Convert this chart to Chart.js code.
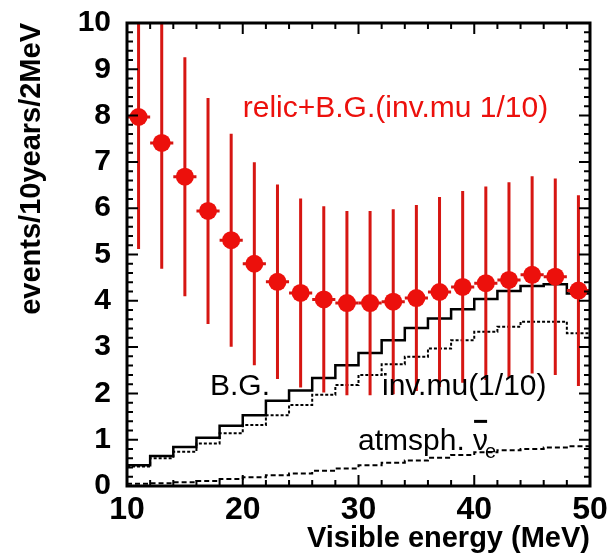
<!DOCTYPE html>
<html>
<head>
<meta charset="utf-8">
<script src="https://cdn.jsdelivr.net/npm/chart.js@4.4.1/dist/chart.umd.min.js"></script>
<style>
  html, body { margin: 0; padding: 0; background: #fff; }
</style>
</head>
<body>
<canvas id="graph" width="609" height="559"></canvas>
<script>
// 2 MeV bins from 10 to 50 MeV
const edges = [10, 12, 14, 16, 18, 20, 22, 24, 26, 28, 30, 32, 34, 36, 38, 40, 42, 44, 46, 48, 50];
const energy = [11, 13, 15, 17, 19, 21, 23, 25, 27, 29, 31, 33, 35, 37, 39, 41, 43, 45, 47, 49];

// relic + B.G. (inv.mu 1/10), with statistical errors
const relic = [7.97, 7.41, 6.68, 5.94, 5.31, 4.80, 4.41, 4.17, 4.03, 3.95, 3.95, 3.98, 4.06, 4.19, 4.30, 4.38, 4.45, 4.56, 4.52, 4.22];
const relicErr = [2.85, 2.72, 2.58, 2.44, 2.30, 2.19, 2.10, 2.04, 2.01, 1.99, 1.99, 2.00, 2.01, 2.05, 2.07, 2.09, 2.11, 2.13, 2.12, 2.06];

// backgrounds
const bg = [0.45, 0.65, 0.84, 1.04, 1.30, 1.53, 1.84, 2.06, 2.33, 2.61, 2.87, 3.15, 3.41, 3.62, 3.82, 4.04, 4.21, 4.32, 4.36, 4.16];
const invMu = [0.42, 0.60, 0.74, 0.92, 1.14, 1.32, 1.53, 1.75, 1.97, 2.18, 2.40, 2.63, 2.79, 2.97, 3.15, 3.33, 3.44, 3.55, 3.55, 3.30];
const atmNue = [0.05, 0.06, 0.08, 0.11, 0.15, 0.19, 0.23, 0.27, 0.33, 0.38, 0.45, 0.50, 0.55, 0.61, 0.67, 0.73, 0.77, 0.80, 0.83, 0.86];

const xTicks = [10, 20, 30, 40, 50];
const yTicks = [0, 1, 2, 3, 4, 5, 6, 7, 8, 9, 10];

const FONT = '"Liberation Sans", Arial, Helvetica, sans-serif';
const RED = 'rgb(236, 16, 12)';
const BAR_RED = 'rgb(214, 22, 18)';

// histogram -> points at bin edges, last value repeated at the upper edge
function steps(vals) {
  return edges.map((e, i) => ({ x: e, y: vals[Math.min(i, vals.length - 1)] }));
}

// vertical stat errors and horizontal bin width, under the markers
const errorBars = {
  id: 'errorBars',
  beforeDatasetDraw(chart, args) {
    if (args.index !== 0) return;
    const { ctx, chartArea: a, scales: { x, y } } = chart;
    ctx.save();
    ctx.beginPath();
    ctx.rect(a.left, a.top, a.right - a.left, a.bottom - a.top);
    ctx.clip();
    ctx.strokeStyle = BAR_RED;
    ctx.lineWidth = 3;
    energy.forEach((e, i) => {
      const px = x.getPixelForValue(e);
      const py = y.getPixelForValue(relic[i]);
      ctx.beginPath();
      ctx.moveTo(px, y.getPixelForValue(relic[i] - relicErr[i]));
      ctx.lineTo(px, y.getPixelForValue(relic[i] + relicErr[i]));
      ctx.moveTo(x.getPixelForValue(edges[i]), py);
      ctx.lineTo(x.getPixelForValue(edges[i + 1]), py);
      ctx.stroke();
    });
    ctx.restore();
  }
};

// text inside the frame
const labels = {
  id: 'labels',
  afterDatasetsDraw(chart) {
    const { ctx, scales: { x, y } } = chart;
    ctx.save();
    ctx.textBaseline = 'alphabetic';
    ctx.textAlign = 'left';
    ctx.font = '30px ' + FONT;

    ctx.fillStyle = RED;
    ctx.fillText('relic+B.G.(inv.mu 1/10)', x.getPixelForValue(20.0), y.getPixelForValue(7.97));

    ctx.fillStyle = '#000';
    ctx.fillText('B.G.', x.getPixelForValue(17.17), y.getPixelForValue(1.97));
    ctx.fillText('inv.mu(1/10)', x.getPixelForValue(32.03), y.getPixelForValue(1.97));

    const ax = x.getPixelForValue(29.96);
    const ay = y.getPixelForValue(0.78);
    const head = 'atmsph. ';
    ctx.fillText(head, ax, ay);
    const nx = ax + ctx.measureText(head).width;
    ctx.fillText('ν', nx, ay);
    const nw = ctx.measureText('ν').width;
    ctx.fillRect(nx + 1, ay - 30, nw - 2, 3);
    ctx.font = '20px ' + FONT;
    ctx.fillText('e', nx + nw - 3, ay + 8);
    ctx.restore();
  }
};

// frame with inward ticks on all four sides
const frame = {
  id: 'frame',
  afterDraw(chart) {
    const { ctx, chartArea: a, scales: { x, y } } = chart;
    ctx.save();
    ctx.strokeStyle = '#000';
    ctx.lineWidth = 2;
    ctx.beginPath();
    for (let v = 10; v <= 50.001; v += 2) {
      const px = x.getPixelForValue(v);
      const len = xTicks.includes(Math.round(v)) ? 11 : 6;
      ctx.moveTo(px, a.bottom); ctx.lineTo(px, a.bottom - len);
      ctx.moveTo(px, a.top); ctx.lineTo(px, a.top + len);
    }
    for (let v = 0; v <= 10.001; v += 0.2) {
      const py = y.getPixelForValue(v);
      const len = Math.abs(v - Math.round(v)) < 0.01 ? 11 : 6;
      ctx.moveTo(a.left, py); ctx.lineTo(a.left + len, py);
      ctx.moveTo(a.right, py); ctx.lineTo(a.right - len, py);
    }
    ctx.stroke();
    ctx.lineWidth = 3;
    ctx.strokeRect(a.left, a.top, a.right - a.left, a.bottom - a.top);
    ctx.restore();
  }
};

const ctx = document.getElementById('graph').getContext('2d');

const chart = new Chart(ctx, {
  type: 'scatter',
  data: {
    datasets: [
      {
        label: 'relic+B.G.(inv.mu 1/10)',
        data: energy.map((e, i) => ({ x: e, y: relic[i] })),
        backgroundColor: RED,
        borderColor: RED,
        pointRadius: 9,
        pointBorderWidth: 0,
        showLine: false,
        order: 0,
      },
      {
        type: 'line',
        label: 'B.G.',
        data: steps(bg),
        stepped: 'before',
        borderColor: '#000',
        borderWidth: 2.5,
        pointRadius: 0,
        fill: false,
        order: 1,
      },
      {
        type: 'line',
        label: 'inv.mu(1/10)',
        data: steps(invMu),
        stepped: 'before',
        borderColor: '#000',
        borderWidth: 2,
        borderDash: [3, 2],
        pointRadius: 0,
        fill: false,
        order: 2,
      },
      {
        type: 'line',
        label: 'atmsph. nue',
        data: steps(atmNue),
        stepped: 'before',
        borderColor: '#000',
        borderWidth: 2,
        borderDash: [5, 3],
        pointRadius: 0,
        fill: false,
        order: 3,
      },
    ],
  },
  options: {
    responsive: false,
    animation: false,
    devicePixelRatio: 1,
    layout: { padding: { top: 23, right: 19, left: 0, bottom: 0 } },
    plugins: {
      legend: { display: false },
      tooltip: { enabled: false },
    },
    scales: {
      x: {
        type: 'linear',
        min: 10,
        max: 50,
        afterBuildTicks: (s) => { s.ticks = xTicks.map((v) => ({ value: v })); },
        afterFit: (s) => { s.height = 73; s.paddingLeft = 0; s.paddingRight = 0; },
        ticks: {
          color: '#000',
          font: { family: FONT, size: 32, weight: 'bold' },
          padding: 5,
          maxRotation: 0,
          autoSkip: false,
        },
        grid: { display: false, drawTicks: false },
        border: { display: false },
        title: {
          display: true,
          text: 'Visible energy (MeV)',
          align: 'end',
          color: '#000',
          font: { family: FONT, size: 29, weight: 'bold' },
          padding: { top: 0, bottom: 3 },
        },
      },
      y: {
        type: 'linear',
        min: 0,
        max: 10,
        afterBuildTicks: (s) => { s.ticks = yTicks.map((v) => ({ value: v })); },
        afterFit: (s) => { s.width = 127; s.paddingTop = 0; s.paddingBottom = 0; },
        ticks: {
          color: '#000',
          font: { family: FONT, size: 30, weight: 'bold' },
          padding: 16,
          autoSkip: false,
        },
        grid: { display: false, drawTicks: false },
        border: { display: false },
        title: {
          display: true,
          text: 'events/10years/2MeV',
          align: 'end',
          color: '#000',
          font: { family: FONT, size: 29, weight: 'bold' },
          padding: { top: 15, bottom: 0 },
        },
      },
    },
  },
  plugins: [errorBars, labels, frame],
});
</script>
</body>
</html>
